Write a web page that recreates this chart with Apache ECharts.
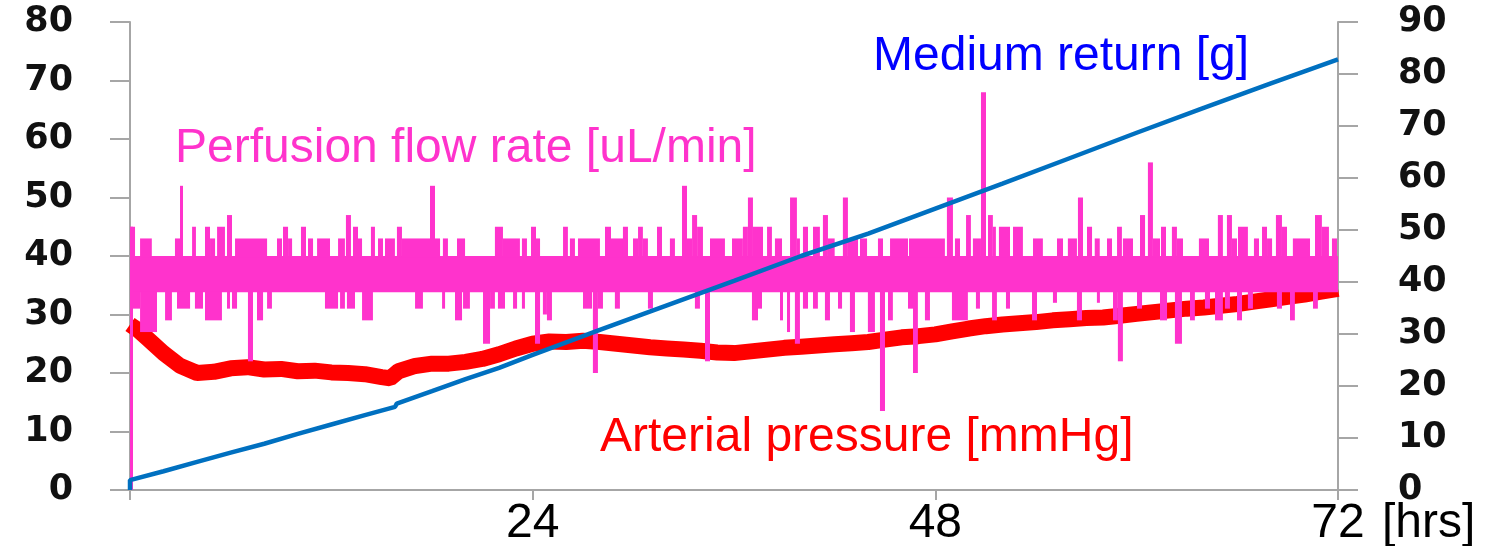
<!DOCTYPE html>
<html>
<head>
<meta charset="utf-8">
<script src="https://cdn.jsdelivr.net/npm/echarts@6/dist/echarts.min.js"></script>
<style>
html,body{margin:0;padding:0;background:#fff;}
#chart{width:1485px;height:546px;}
</style>
</head>
<body>
<div id="chart"></div>
<script>
// ---- data ----
const xTicks = [0, 24, 48, 72];           // hours
const leftTicks = [0, 10, 20, 30, 40, 50, 60, 70, 80];
const rightTicks = [0, 10, 20, 30, 40, 50, 60, 70, 80, 90];

// Arterial pressure [mmHg] (left axis)
const pressureT = [0,0.5,1,2,3,4,5,6,7,8,9,10,11,12,13,14,15,15.5,16,17,18,19,20,21,22,23,24,25,26,27,28,29,30,31,32,33,34,35,36,37,38,39,40,41,42,43,44,45,46,47,48,49,50,51,52,53,54,55,56,57,58,59,60,61,62,63,64,65,66,67,68,69,70,71,72];
const pressureV = [28.3,27.3,26.0,23.4,21.2,20.0,20.2,20.8,21.0,20.6,20.7,20.3,20.4,20.1,20.0,19.8,19.3,19.1,20.3,21.2,21.6,21.6,21.9,22.4,23.2,24.2,25.0,25.4,25.3,25.5,25.3,25.0,24.7,24.4,24.2,24.0,23.8,23.5,23.4,23.7,24.0,24.3,24.5,24.7,24.9,25.1,25.3,25.7,26.1,26.3,26.6,27.1,27.6,28.0,28.3,28.5,28.7,29.0,29.2,29.4,29.5,29.8,30.1,30.4,30.7,31.0,31.2,31.5,31.8,32.2,32.6,33.0,33.4,33.9,34.4];

// Medium return [g] (right axis)
const returnT = [0,0,2,4,6,8,10,12,14,15.8,15.9,18,20,22,24,28,32,36,40,44,48,52,56,60,64,68,72];
const returnV = [0,1.9,3.6,5.4,7.2,8.9,10.8,12.6,14.4,16.0,16.6,19.0,21.3,23.5,26.0,30.8,35.5,40.2,45.0,49.3,54.1,58.9,63.8,68.7,73.5,78.2,82.8];

// Perfusion flow rate [uL/min] (left axis): main band, upward and downward excursions
const flowBand = [[0, 72, 33.8, 40]];           // [t0, t1, low, high]
const flowStart = [[0, 0.05, 0, 45]];           // initial rise at t = 0
const flowUp = [ // [t0, t1, peak]
[0.0,0.3,45],[0.6,1.3,43],[2.68,2.98,43],[2.98,3.16,52],[3.70,3.93,45],[4.47,4.77,45],[4.77,5.07,43],[5.19,5.66,45],[5.78,6.08,47],[6.26,8.17,43],
[8.76,9.06,43],[9.12,9.42,45],[9.42,9.66,43],[10.19,10.49,45],[10.61,10.91,43],[11.15,11.92,43],[12.40,12.81,43],[12.87,13.17,47],[13.29,13.59,45],[13.59,13.83,43],
[14.36,14.60,45],[14.78,15.08,43],[15.2,15.79,43],[15.91,16.21,45],[16.21,17.88,43],[17.88,18.18,52],[18.18,18.48,43],[18.65,18.95,43],[19.49,19.97,43],[21.75,22.23,45],
[22.23,23.24,43],[23.36,23.66,43],[23.90,24.20,45],[24.2,24.44,43],[25.81,26.10,45],[26.22,26.52,43],[26.70,28.01,43],[28.31,28.67,45],[28.67,29.68,43],[29.38,29.68,45],
[29.98,30.28,43],[30.28,30.57,45],[30.57,30.87,43],[31.41,31.71,45],[32.18,32.48,43],[32.9,33.2,52],[33.2,33.5,43],[33.5,33.8,47],[33.8,34.15,45],[34.57,35.46,43],
[35.88,36.53,43],[36.53,36.83,45],[36.83,37.13,50],[37.13,37.73,45],[37.97,38.26,45],[38.44,38.86,43],[39.34,39.75,50],[39.75,39.93,43],[40.11,40.41,45],[40.71,41.12,45],
[41.30,41.60,47],[41.6,42.0,43],[42.49,42.79,50],[42.79,43.39,43],[43.51,43.93,43],[44.58,44.88,43],[45.3,46.37,43],[46.43,48.57,43],[48.69,49.05,50],[49.17,49.47,43],
[49.83,50.12,47],[50.24,50.72,43],[50.72,51.02,68],[51.14,51.43,47],[51.43,51.61,45],[51.79,52.45,45],[52.63,53.22,45],[53.82,54.41,43],[55.25,55.61,43],[55.9,56.44,43],
[56.5,56.80,50],[57.04,57.34,45],[57.5,57.8,43],[58.23,58.53,43],[58.83,59.12,45],[59.18,59.78,43],[60.2,60.5,47],[60.67,60.97,56],[60.97,61.39,43],[61.45,61.75,45],
[62.1,62.4,45],[62.4,62.76,43],[63.71,64.31,43],[64.84,65.14,47],[65.38,65.68,47],[65.68,65.98,43],[66.04,66.63,45],[66.99,67.29,43],[67.47,67.77,45],[67.77,68.07,43],
[68.3,68.66,47],[68.66,68.96,45],[69.31,70.33,43],[70.63,71.04,47],[71.04,71.46,45],[71.64,71.94,43]
];
const flowDown = [ // [t0, t1, trough]
[0.18,0.6,31],[0.6,1.61,27],[2.09,2.50,29],[2.80,3.58,31],[3.87,4.35,31],[4.47,5.48,29],[5.78,5.96,31],[6.08,6.38,31],[7.03,7.33,22],[7.57,7.93,29],
[8.17,8.46,31],[11.62,12.40,31],[12.52,12.81,31],[12.93,13.41,31],[13.83,14.48,29],[16.99,17.46,31],[18.60,18.77,31],[19.37,19.79,29],[19.85,20.26,31],[21.04,21.46,25],
[21.46,21.75,31],[21.93,22.35,31],[22.83,23.07,31],[23.36,23.54,31],[24.14,24.44,25],[24.61,24.85,30],[24.85,25.15,29],[27.0,27.54,31],[27.59,27.89,20],[27.89,28.19,31],
[28.9,29.2,31],[30.87,31.17,31],[33.67,33.97,31],[34.27,34.57,22],[37.07,37.43,29],[37.43,37.67,31],[38.74,38.92,29],[39.16,39.34,27],[39.63,39.93,25],[40.11,40.41,31],
[40.71,41.0,31],[41.42,41.72,29],[42.2,42.44,31],[42.91,43.21,27],[43.98,44.40,27],[44.7,45.0,13.5],[45.18,45.47,29],[46.37,46.67,31],[46.67,46.96,20],[47.38,47.68,29],
[48.99,49.94,29],[50.42,50.66,31],[51.38,51.67,29],[52.21,52.45,31],[53.76,54.06,29],[55.01,55.25,32],[56.44,56.74,29],[57.63,57.81,32],[58.59,58.88,29],[58.88,59.18,22],
[60.02,60.32,31],[61.39,61.81,29],[62.28,62.70,25],[63.18,63.47,29],[64.07,64.37,31],[64.67,65.14,29],[65.26,65.56,31],[65.98,66.28,29],[66.63,66.93,31],[68.36,68.66,31],
[69.14,69.43,29],[70.51,70.80,31]
];

const labelPressure = 'Arterial pressure [mmHg]';
const labelFlow = 'Perfusion flow rate [uL/min]';
const labelReturn = 'Medium return [g]';

// ---- build ----
const pressureData = pressureT.map((t, i) => [t, pressureV[i]]);
const returnData = returnT.map((t, i) => [t, returnV[i]]);
const flowBandLow = flowBand[0][2], flowBandHigh = flowBand[0][3];
const flowItems = []
  .concat(flowBand)
  .concat(flowStart)
  .concat(flowUp.map(d => [d[0], d[1], flowBandHigh - 0.2, d[2]]))
  .concat(flowDown.map(d => [d[0], d[1], d[2], flowBandLow + 0.2]));

const PINK = '#ff33cc';
const AXIS_GRAY = '#a6a6a6';
const Y_LABEL_FONT = {color: '#111', fontFamily: 'DejaVu Sans, Verdana, sans-serif', fontSize: 35, fontWeight: 'bold'};

const chart = echarts.init(document.getElementById('chart'), null, {renderer: 'canvas'});
chart.setOption({
  animation: false,
  backgroundColor: '#ffffff',
  grid: {left: 130, right: 147, top: 22, bottom: 56, containLabel: false, outerBoundsMode: 'none'},
  xAxis: {
    type: 'value', min: xTicks[0], max: xTicks[xTicks.length - 1], interval: 24,
    splitLine: {show: false},
    axisLine: {show: true, lineStyle: {color: AXIS_GRAY, width: 2}},
    axisTick: {show: true, length: 10, lineStyle: {color: AXIS_GRAY, width: 2}},
    axisLabel: {
      show: true, margin: 10, color: '#000',
      fontFamily: 'Liberation Sans, Arial, sans-serif', fontSize: 48,
      formatter: v => (xTicks.indexOf(v) > 0 ? String(v) : '')
    },
    name: '[hrs]', nameLocation: 'end', nameGap: 44, nameMoveOverlap: false,
    nameTextStyle: {color: '#000', fontFamily: 'Liberation Sans, Arial, sans-serif', fontSize: 48,
      align: 'left', verticalAlign: 'top', padding: [10, 0, 0, 0]}
  },
  yAxis: [
    {
      type: 'value', position: 'left', min: leftTicks[0], max: leftTicks[leftTicks.length - 1], interval: 10,
      splitLine: {show: false},
      axisLine: {show: true, lineStyle: {color: AXIS_GRAY, width: 2}},
      axisTick: {show: true, length: 20, lineStyle: {color: AXIS_GRAY, width: 2}},
      axisLabel: Object.assign({margin: 57}, Y_LABEL_FONT)
    },
    {
      type: 'value', position: 'right', min: rightTicks[0], max: rightTicks[rightTicks.length - 1], interval: 10,
      splitLine: {show: false},
      axisLine: {show: true, lineStyle: {color: AXIS_GRAY, width: 2}},
      axisTick: {show: true, length: 20, lineStyle: {color: AXIS_GRAY, width: 2}},
      axisLabel: Object.assign({margin: 60}, Y_LABEL_FONT)
    }
  ],
  series: [
    {
      name: labelPressure, type: 'line', yAxisIndex: 0, data: pressureData,
      showSymbol: false, symbol: 'none', z: 2,
      lineStyle: {color: '#ff0000', width: 16}
    },
    {
      name: labelFlow, type: 'custom', yAxisIndex: 0, data: flowItems, z: 3,
      encode: {x: [0, 1], y: [2, 3]},
      renderItem: function (params, api) {
        const p0 = api.coord([api.value(0), api.value(3)]);
        const p1 = api.coord([api.value(1), api.value(2)]);
        const w = Math.max(p1[0] - p0[0], 3);
        return {type: 'rect', shape: {x: p0[0], y: p0[1], width: w, height: p1[1] - p0[1]},
          style: {fill: PINK}};
      }
    },
    {
      name: labelReturn, type: 'line', yAxisIndex: 1, data: returnData,
      showSymbol: false, symbol: 'none', z: 4,
      lineStyle: {color: '#0070c0', width: 4.5}
    }
  ],
  graphic: [
    {type: 'text', x: 175, y: 149, z: 10, style: {text: labelFlow, fill: PINK,
      font: '48px "Liberation Sans", Arial, sans-serif', textAlign: 'left', textVerticalAlign: 'middle'}},
    {type: 'text', x: 873, y: 57, z: 10, style: {text: labelReturn, fill: '#0000ff',
      font: '48px "Liberation Sans", Arial, sans-serif', textAlign: 'left', textVerticalAlign: 'middle'}},
    {type: 'text', x: 600, y: 438, z: 10, style: {text: labelPressure, fill: '#ff0000',
      font: '48px "Liberation Sans", Arial, sans-serif', textAlign: 'left', textVerticalAlign: 'middle'}}
  ]
});
</script>
</body>
</html>
